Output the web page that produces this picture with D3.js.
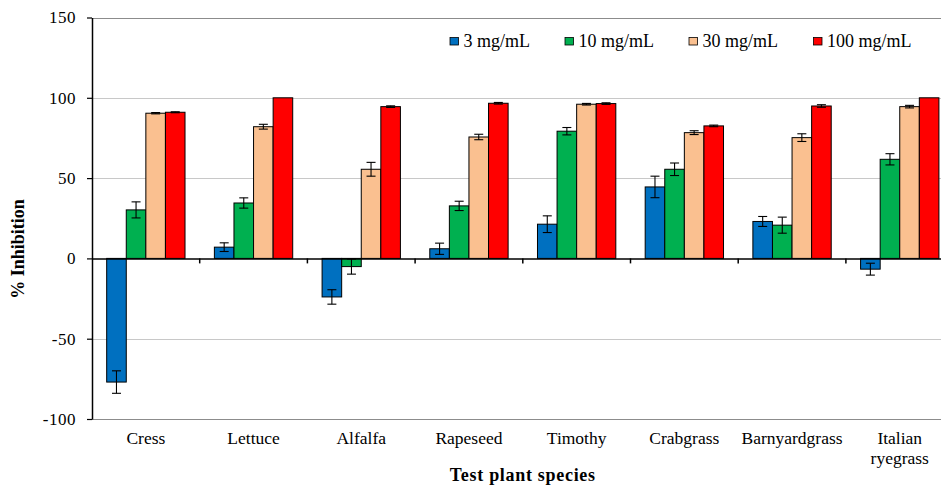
<!DOCTYPE html>
<html><head><meta charset="utf-8">
<script src="https://cdn.jsdelivr.net/npm/d3@7"></script>
<style>
html,body{margin:0;padding:0;background:#fff;overflow:hidden;}
svg{display:block;font-family:"Liberation Serif","Times New Roman",serif;}
</style></head>
<body>
<svg id="chart" width="941" height="486"></svg>
<script>
const categories = ["Cress","Lettuce","Alfalfa","Rapeseed","Timothy","Crabgrass","Barnyardgrass","Italian ryegrass"];
const seriesNames = ["3 mg/mL","10 mg/mL","30 mg/mL","100 mg/mL"];
const v3   = [-77, 7, -24, 6, 21.3, 44.5, 23, -6.7];
const v10  = [30.2, 34.5, -5.1, 32.7, 79.2, 55.5, 20.7, 61.7];
const v30  = [90.4, 82, 55.5, 75.6, 96, 78.3, 75.2, 94.5];
const v100 = [91, 100, 94.5, 96.6, 96.4, 82.5, 94.9, 100];
const e3   = [7, 2.7, 4.5, 3.5, 5.2, 6.7, 3.1, 3.7];
const e10  = [5, 3.2, 4.7, 2.9, 2.3, 3.9, 5, 3.5];
const e30  = [0.4, 1.5, 4.3, 1.7, 0.5, 1.2, 2.4, 0.8];
const e100 = [0.3, 0, 0.5, 0.5, 0.5, 0.5, 0.8, 0];
const yTicks = [-100, -50, 0, 50, 100, 150];
const colors = ["#0070C0", "#00B050", "#FAC090", "#FF0000"];
const yTitle = "% Inhibition";
const xTitle = "Test plant species";

const values = [v3, v10, v30, v100];
const errors = [e3, e10, e30, e100];

const svg = d3.select("#chart");
const pLeft = 92, pRight = 953.6, pTop = 17.5, pBottom = 419;

const x0 = d3.scaleBand().domain(categories).range([pLeft, pRight]).padding(0);
const x1 = d3.scaleBand().domain(seriesNames).range([0, x0.bandwidth()]).paddingInner(0).paddingOuter(0.75);
const y = d3.scaleLinear().domain([-100, 150]).range([pBottom, pTop]);

// gridlines
svg.append("g").selectAll("line").data(yTicks.filter(d => d !== 0)).join("line")
  .attr("x1", pLeft).attr("x2", pRight)
  .attr("y1", d => Math.round(y(d)) + 0.5).attr("y2", d => Math.round(y(d)) + 0.5)
  .attr("stroke", d => (d === 150 || d === -100) ? "#8c8c8c" : "#c8c8c8")
  .attr("stroke-width", 1.2);

// bars
const groups = svg.append("g").selectAll("g").data(seriesNames).join("g")
  .attr("fill", (d, i) => colors[i]);
groups.each(function(s, si) {
  const g = d3.select(this);
  g.selectAll("rect").data(categories).join("rect")
    .attr("x", (c) => x0(c) + x1(s))
    .attr("width", x1.bandwidth())
    .attr("y", (c, ci) => y(Math.max(0, values[si][ci])))
    .attr("height", (c, ci) => Math.abs(y(values[si][ci]) - y(0)))
    .attr("stroke", "#000").attr("stroke-width", 1);
});

// error bars
const eg = svg.append("g").attr("stroke", "#000").attr("stroke-width", 1.1);
seriesNames.forEach((s, si) => {
  categories.forEach((c, ci) => {
    const v = values[si][ci], e = errors[si][ci];
    if (e <= 0) return;
    const cx = x0(c) + x1(s) + x1.bandwidth() / 2;
    const y1 = y(v + e), y2 = y(v - e);
    eg.append("line").attr("x1", cx).attr("x2", cx).attr("y1", y1).attr("y2", y2);
    eg.append("line").attr("x1", cx - 4.5).attr("x2", cx + 4.5).attr("y1", y1).attr("y2", y1);
    eg.append("line").attr("x1", cx - 4.5).attr("x2", cx + 4.5).attr("y1", y2).attr("y2", y2);
  });
});

// zero line (category axis)
const zeroAxis = d3.axisBottom(x0).tickSize(0).tickFormat("");
svg.append("g").attr("transform", `translate(0,${y(0)})`).call(zeroAxis)
  .call(g => g.select(".domain").attr("stroke", "#000").attr("stroke-width", 1.5));
// category tick marks at boundaries
svg.append("g").selectAll("line").data(categories.slice(1)).join("line")
  .attr("x1", d => x0(d)).attr("x2", d => x0(d))
  .attr("y1", y(0)).attr("y2", y(0) + 5)
  .attr("stroke", "#000").attr("stroke-width", 1.5);

// y axis
const yAxis = d3.axisLeft(y).tickValues(yTicks).tickSize(5).tickPadding(11).tickSizeOuter(0)
  .tickFormat(d => String(d));
svg.append("g").attr("transform", `translate(${pLeft},0)`).call(yAxis)
  .call(g => g.select(".domain").attr("stroke", "#000").attr("stroke-width", 1.5))
  .call(g => g.selectAll(".tick line").attr("stroke", "#000").attr("stroke-width", 1.2))
  .call(g => g.selectAll(".tick text").attr("font-family", "Liberation Serif, serif")
    .attr("font-size", 17).attr("letter-spacing", 0.5).attr("fill", "#000"));

// category labels
const lab = svg.append("g").attr("font-size", 17.5).attr("text-anchor", "middle").attr("fill", "#000");
categories.forEach(c => {
  const lines = c.includes(" ") ? c.split(" ") : [c];
  const t = lab.append("text").attr("x", x0(c) + x0.bandwidth() / 2).attr("y", 444);
  lines.forEach((ln, i) => t.append("tspan").attr("x", x0(c) + x0.bandwidth() / 2).attr("dy", i === 0 ? 0 : 20).text(ln));
});

// axis titles
svg.append("text").attr("x", (pLeft + pRight) / 2).attr("y", 481)
  .attr("text-anchor", "middle").attr("font-weight", "bold").attr("font-size", 18)
  .attr("letter-spacing", 0.7).text(xTitle);
svg.append("text").attr("transform", `translate(24,249) rotate(-90)`)
  .attr("text-anchor", "middle").attr("font-weight", "bold").attr("font-size", 18).text(yTitle);

// legend
const legendX = [450, 565, 689, 813.5];
const lg = svg.append("g");
seriesNames.forEach((s, i) => {
  lg.append("rect").attr("x", legendX[i]).attr("y", 37.5).attr("width", 8.5).attr("height", 7.5)
    .attr("fill", colors[i]).attr("stroke", "#000").attr("stroke-width", 0.8);
  lg.append("text").attr("x", legendX[i] + 13.5).attr("y", 46.5).attr("font-size", 18).text(s);
});
</script>
</body></html>
